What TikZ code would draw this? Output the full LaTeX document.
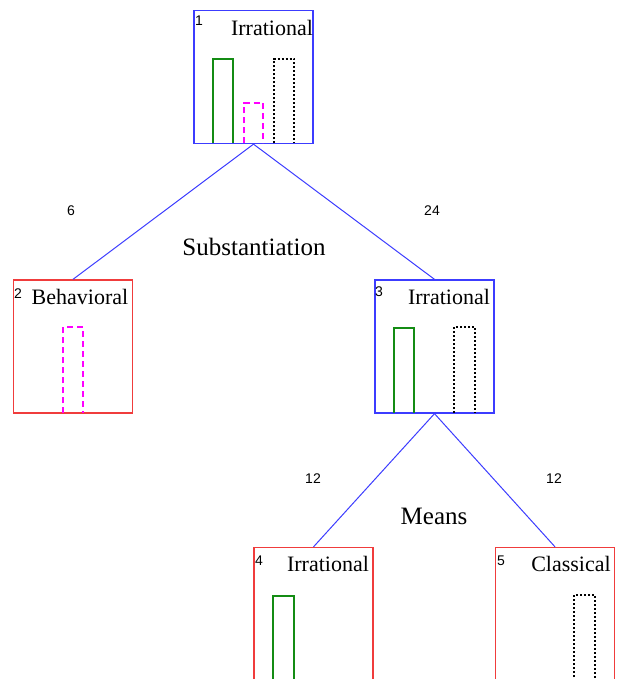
\documentclass[tikz,border=0pt]{standalone}
\usepackage{fontspec}
\setmainfont{Liberation Serif}
\newfontfamily\numfont{Liberation Sans}
\definecolor{tblue}{RGB}{60,60,255}
\definecolor{tred}{RGB}{240,60,60}
\definecolor{tgreen}{RGB}{20,140,20}
\definecolor{tmag}{RGB}{255,0,255}
\begin{document}
\begin{tikzpicture}[x=1pt,y=-1pt,
  box/.style={draw,line width=1.3pt,minimum width=119pt,minimum height=133pt,inner sep=0pt},
  bluebox/.style={box,draw=tblue},
  redbox/.style={box,draw=tred},
  edge/.style={draw=tblue,line width=1pt},
  lbl/.style={font=\fontsize{22}{22}\selectfont,inner sep=0pt},
  elbl/.style={font=\fontsize{25}{25}\selectfont,inner sep=0pt},
  num/.style={font=\numfont\fontsize{14}{14}\selectfont,inner sep=0pt},
  gbar/.style={draw=tgreen,line width=1.3pt},
  mbar/.style={draw=tmag,line width=1.3pt,dash pattern=on 6pt off 4pt},
  kbar/.style={draw=black,line width=1.2pt,dash pattern=on 2pt off 2pt}]
\useasboundingbox (0,0) rectangle (619,679);
\begin{scope}
\clip (0,0) rectangle (619,679);
% boxes
\node[bluebox] (n1) at (253.5,77) {};
\node[redbox] (n2) at (73,346.5) {};
\node[bluebox] (n3) at (434.5,346.5) {};
\node[redbox] (n4) at (313.5,614) {};
\node[redbox] (n5) at (555,614) {};
% edges
\draw[edge] (n1.south) -- (n2.north);
\draw[edge] (n1.south) -- (n3.north);
\draw[edge] (n3.south) -- (n4.north);
\draw[edge] (n3.south) -- (n5.north);
% bars node 1
\draw[gbar] (213,143.5) |- (233,59) -- (233,143.5);
\draw[mbar] (244,143.5) |- (263,103) -- (263,143.5);
\draw[kbar] (274,143.5) |- (294,59) -- (294,143.5);
% node 2
\draw[mbar] (63,413) |- (83,327) -- (83,413);
% node 3
\draw[gbar] (394,413) |- (414,328) -- (414,413);
\draw[kbar] (454,413) |- (475,327) -- (475,413);
% node 4
\draw[gbar] (273,681) |- (294,596) -- (294,681);
% node 5
\draw[kbar] (574,681) |- (595,595) -- (595,681);
\end{scope}
% labels
\node[num] (k1) at (199,21) {1};
\node[lbl] (t1) at (272,28) {Irrational};
\node[num] (k2) at (18,294) {2};
\node[lbl] (t2) at (80,297) {Behavioral};
\node[num] (k3) at (379,292) {3};
\node[lbl] (t3) at (449,297) {Irrational};
\node[num] (k4) at (259,561) {4};
\node[lbl] (t4) at (328,564) {Irrational};
\node[num] (k5) at (501,561) {5};
\node[lbl] (t5) at (571,564) {Classical};
\node[num] (e6) at (71,211) {6};
\node[num] (e24) at (432,211) {24};
\node[elbl] (s1) at (254,247) {Substantiation};
\node[num] (e12a) at (313,479) {12};
\node[num] (e12b) at (554,479) {12};
\node[elbl] (s2) at (434,516) {Means};
\end{tikzpicture}
\end{document}
